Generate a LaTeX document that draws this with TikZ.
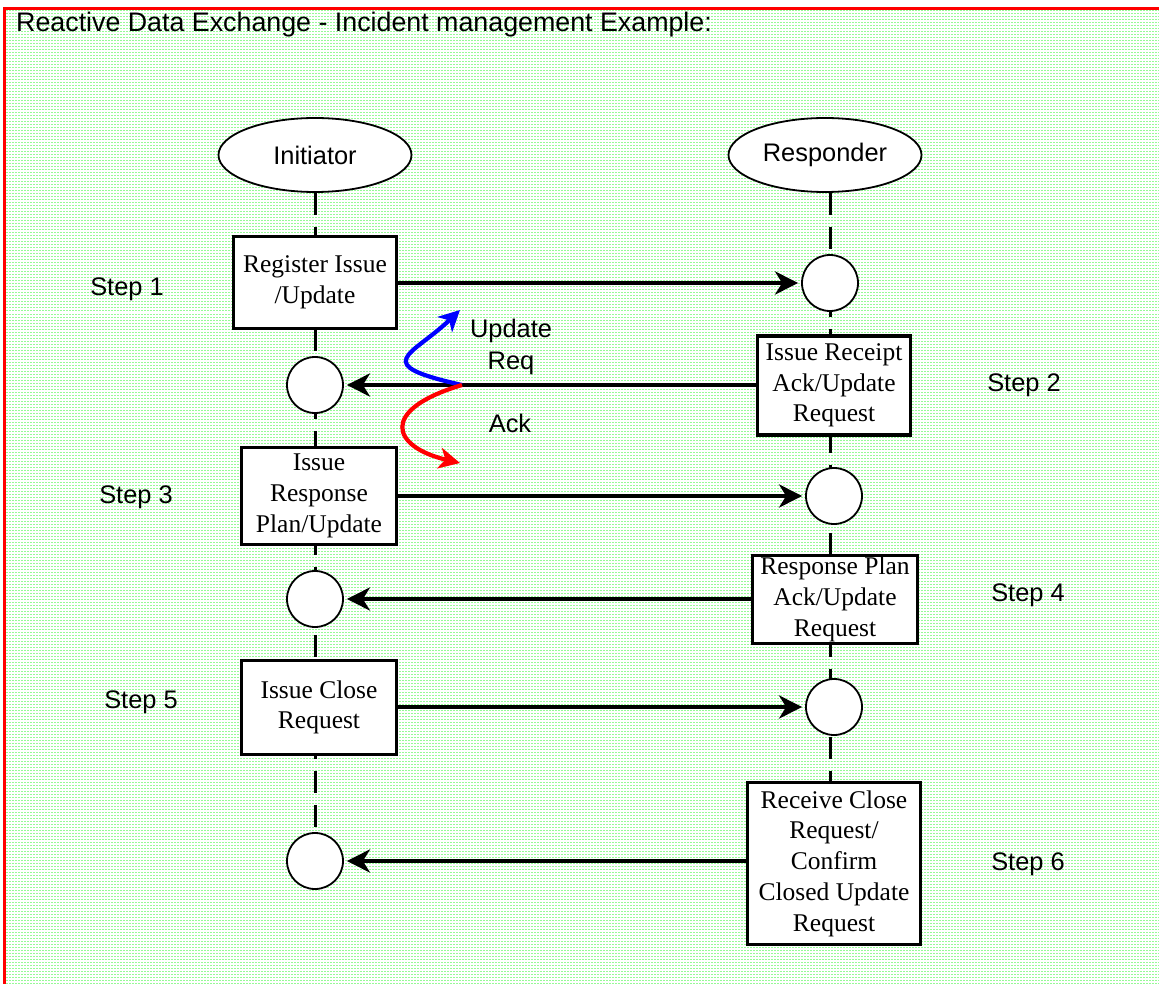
\documentclass[tikz,border=0pt]{standalone}
\usepackage{fontspec}
\setmainfont{Liberation Serif}
\setsansfont{Liberation Sans}
\usetikzlibrary{shapes.geometric,arrows.meta}
\pgfdeclarelayer{hatch}
\pgfdeclarelayer{lifelines}
\pgfsetlayers{hatch,lifelines,main}

\begin{document}
\begin{tikzpicture}[x=1pt,y=-1pt,
  actor/.style={ellipse,draw,line width=1.8pt,fill=white,minimum width=193pt,minimum height=74pt,inner sep=0pt,font=\sffamily\fontsize{25.4}{30}\selectfont},
  task/.style={rectangle,draw,line width=3.8pt,fill=white,align=center,inner sep=0pt,font=\fontsize{25.5}{30.7}\selectfont},
  event/.style={circle,draw,line width=1.8pt,fill=white,minimum size=56pt,inner sep=0pt},
  msg/.style={line width=4pt,-{Stealth[length=23pt,width=23pt,inset=7pt]},shorten >=3pt},
  reply/.style={line width=4.2pt,-{Stealth[length=21pt,width=21pt,inset=6pt]}},
  lifeline/.style={line width=3pt,dash pattern=on 22pt off 12pt},
  steplabel/.style={font=\sffamily\fontsize{25.4}{31.5}\selectfont},
  hatchline/.style={line width=1pt,color={rgb,255:red,150;green,250;blue,150},dash pattern=on 2pt off 1pt}]
\useasboundingbox (0,0) rectangle (1159,984);
\clip (0,0) rectangle (1159,984);

% background and frame
\begin{pgfonlayer}{hatch}
\fill[white] (0,0) rectangle (1159,984);
\foreach \y in {11,14,...,984}
  \draw[hatchline] (6,\y) -- (1159,\y);
\draw[red,line width=2.7pt] (4.7,1000) -- (4.7,8.7) -- (1170,8.7);
\end{pgfonlayer}

\node[anchor=base west,inner sep=0pt,font=\sffamily\fontsize{26.8}{30}\selectfont] (title) at (16,31.5) {Reactive Data Exchange - Incident management Example:};

% actors
\node[actor] (init) at (315,155) {Initiator};
\node[actor] (resp) at (825,155) {Responder};

% steps
\node[task,minimum width=163pt,minimum height=92pt] (reg) at (315,282.5) {Register Issue\\/Update};
\node[event] (c1) at (830,283) {};
\node[task,minimum width=153pt,minimum height=99pt] (rcpt) at (834,385.5) {Issue Receipt\\Ack/Update\\Request};
\node[event] (c2) at (315,385) {};
\node[task,minimum width=155pt,minimum height=97pt] (plan) at (319,496) {Issue\\Response\\Plan/Update};
\node[event] (c3) at (834,496) {};
\node[task,minimum width=165pt,minimum height=88pt] (rplan) at (835,599.5) {Response Plan\\Ack/Update\\Request};
\node[event] (c4) at (315,599) {};
\node[task,minimum width=155pt,minimum height=94pt] (close) at (319,707.5) {Issue Close\\Request};
\node[event] (c5) at (834,707) {};
\node[task,minimum width=173pt,minimum height=162pt] (recv) at (834,863.5) {Receive Close\\Request/\\Confirm\\Closed Update\\Request};
\node[event] (c6) at (315,861) {};

\node[steplabel] (s1) at (127,289.5) {Step 1};
\node[steplabel] (s2) at (1024,385.5) {Step 2};
\node[steplabel] (s3) at (136,497) {Step 3};
\node[steplabel] (s4) at (1028,595.5) {Step 4};
\node[steplabel] (s5) at (141,702.5) {Step 5};
\node[steplabel] (s6) at (1028,864.5) {Step 6};

% lifelines
\begin{pgfonlayer}{lifelines}
\draw[lifeline] (init.south) -- (init.south |- c6.north);
\draw[lifeline] (c1.center |- resp.south) -- (c1.center |- recv.north);
\end{pgfonlayer}

% messages
\draw[msg] (reg.east |- c1) -- (c1);
\draw[msg] (rcpt.west |- c2) -- (c2);
\draw[msg] (plan.east |- c3) -- (c3);
\draw[msg] (rplan.west |- c4) -- (c4);
\draw[msg] (close.east |- c5) -- (c5);
\draw[msg] (recv.west |- c6) -- (c6);

% update request / ack
\coordinate (fork) at (462,385);
\coordinate (updtip) at (460,310);
\coordinate (acktip) at (460,463);
\draw[reply,blue] (fork) .. controls (368,364) and (412,356) .. (updtip);
\draw[reply,red] (fork) .. controls (378,410) and (392,447) .. (acktip);
\node[steplabel,align=center] (updreq) at (511,347) {Update\\Req};
\node[steplabel] (ack) at (510,423.5) {Ack};
\end{tikzpicture}
\end{document}
